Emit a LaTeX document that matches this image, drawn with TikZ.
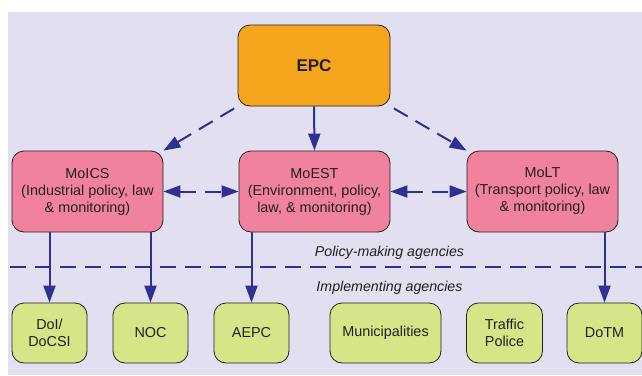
\documentclass[tikz,border=0pt]{standalone}
\usepackage{fontspec}
\setmainfont{Liberation Sans}
\usetikzlibrary{arrows.meta, positioning}
\definecolor{bglav}{RGB}{225, 223, 240}
\definecolor{epcorange}{RGB}{246, 166, 28}
\definecolor{minpink}{RGB}{241, 130, 158}
\definecolor{implgreen}{RGB}{215, 228, 135}
\definecolor{linkblue}{RGB}{46, 49, 146}
\definecolor{textgray}{RGB}{35, 31, 32}

\begin{document}
\begin{tikzpicture}[x=1pt, y=-1pt,
  agency/.style={draw=textgray, line width=0.8pt, rounded corners=12pt,
    inner sep=0pt, align=center, text=textgray,
    font=\fontsize{14.4}{17}\selectfont},
  link/.style={line width=2pt, linkblue, -{Triangle[length=17pt, width=12pt]}},
  duallink/.style={link, {Triangle[length=17pt, width=12pt]}-{Triangle[length=17pt, width=12pt]}},
  gap/.style={dash pattern=on 16pt off 9pt}]
  \useasboundingbox (0, 0) rectangle (642, 375);
  \fill[bglav] (8, 12) rectangle (642, 375);

  % Top: EPC
  \node[agency, fill=epcorange, minimum width=152pt, minimum height=81pt,
    font=\fontsize{17}{20}\selectfont\bfseries] (epc) at (314, 65.5) {EPC};

  % Ministries
  \node[agency, fill=minpink, minimum width=151pt, minimum height=81pt] (moics) at (87.5, 191.5)
    {MoICS\\(Industrial policy, law\\\& monitoring)};
  \node[agency, fill=minpink, minimum width=151pt, minimum height=81pt] (moest) at (314.5, 191.5)
    {MoEST\\(Environment, policy,\\law, \& monitoring)};
  \node[agency, fill=minpink, minimum width=151pt, minimum height=81pt] (molt) at (542.5, 191.5)
    {MoLT\\(Transport policy, law\\\& monitoring)};

  % Implementing agencies
  \node[agency, fill=implgreen, minimum width=75pt, minimum height=60pt] (doi) at (49.5, 333) {DoI/\\DoCSI};
  \node[agency, fill=implgreen, minimum width=75pt, minimum height=60pt] (noc) at (150.5, 333) {NOC};
  \node[agency, fill=implgreen, minimum width=75pt, minimum height=60pt] (aepc) at (251.5, 333) {AEPC};
  \node[agency, fill=implgreen, minimum width=111pt, minimum height=60pt] (muni) at (385.5, 333) {Municipalities};
  \node[agency, fill=implgreen, minimum width=76pt, minimum height=60pt] (police) at (504.5, 333) {Traffic\\Police};
  \node[agency, fill=implgreen, minimum width=75pt, minimum height=60pt] (dotm) at (604.5, 333) {DoTM};

  % Separator between the two levels
  \coordinate (sepL) at (10, 267);
  \coordinate (sepR) at (642, 267);
  \draw[line width=2pt, linkblue, gap] (sepL) -- (sepR);
  \node[font=\fontsize{14.2}{17}\selectfont\itshape, text=textgray] (policy) at (389.5, 253) {Policy-making agencies};
  \node[font=\fontsize{14.2}{17}\selectfont\itshape, text=textgray] (impl) at (389.5, 288) {Implementing agencies};

  % Links from EPC
  \draw[link, gap, shorten <=4pt] (epc.south west) -- (moics.north east);
  \draw[link] (epc.south) -- (moest.north);
  \draw[link, gap, shorten <=4pt] (epc.south east) -- (molt.north west);

  % Links between ministries
  \draw[duallink, gap] (moics.east) -- (moest.west);
  \draw[duallink, gap] (moest.east) -- (molt.west);

  % Links down to agencies
  \draw[link] (moics.south -| doi.north) -- (doi.north);
  \draw[link] (moics.south -| noc.north) -- (noc.north);
  \draw[link] (moest.south -| aepc.north) -- (aepc.north);
  \draw[link] (molt.south -| dotm.north) -- (dotm.north);
\end{tikzpicture}
\end{document}
